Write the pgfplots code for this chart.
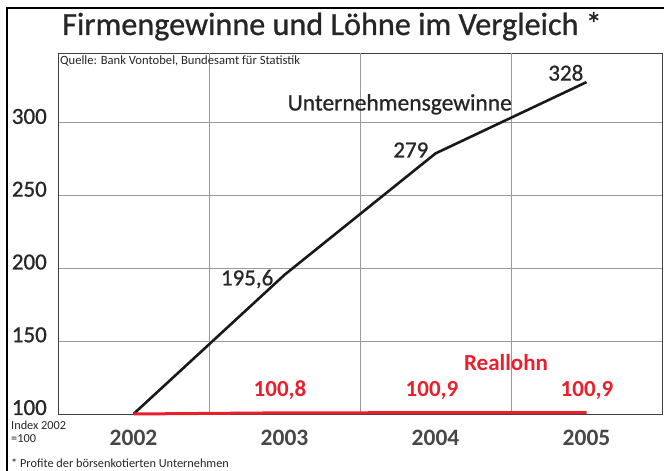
\documentclass[border=0pt]{standalone}
\usepackage{fontspec}
\setmainfont{Carlito}
\newfontfamily\medfont{Carlito}[FakeBold=0.8]
\newfontfamily\semifont{Carlito}[FakeBold=1.4]
\usepackage{pgfplots}
\pgfplotsset{compat=1.18}
\definecolor{txt}{HTML}{262626}
\definecolor{rot}{HTML}{E8202C}
\definecolor{gridc}{HTML}{9A9A9A}
\begin{document}
\begin{tikzpicture}[x=1bp,y=1bp]
\useasboundingbox (0,0) rectangle (664,471);
\fill[white] (0,0) rectangle (664,471);
\begin{axis}[
  at={(58bp,57bp)}, anchor=south west,
  scale only axis, width=604bp, height=361bp,
  xmin=-0.5, xmax=3.5, ymin=100, ymax=348,
  xtick={0,1,2,3}, xticklabels={2002,2003,2004,2005},
  ytick={100,150,200,250,300},
  extra x ticks={0.5,1.5,2.5}, extra x tick labels={},
  extra x tick style={grid=major, major tick length=0pt},
  ymajorgrids,
  grid style={draw=gridc, line width=0.9bp},
  major tick length=0pt,
  axis line style={draw=black!75, line width=0.9bp},
  /pgf/number format/assume math mode=true,
  yticklabel style={anchor=base east, inner sep=0pt, xshift=-11bp, yshift=-1bp,
     font=\medfont\fontsize{23bp}{26bp}\selectfont, text=txt},
  xticklabel style={anchor=base, inner sep=0pt, yshift=-32bp,
     font=\bfseries\fontsize{23.5bp}{26bp}\selectfont, text=txt!85},
  clip=false,
]
\addplot[draw=black!90, line width=2.6bp, line join=round] coordinates {(0,100) (1,195.6) (2,279) (3,328)};
\addplot[draw=rot, line width=3bp] coordinates {(0,100) (1,100.8) (2,100.9) (3,100.9)};
\begin{scope}[every node/.style={inner sep=0pt, font=\medfont\fontsize{23bp}{26bp}\selectfont, text=txt}]
\node[anchor=base east, xshift=-11bp, yshift=-10.5bp] at (axis cs:1,195.6) {195,6};
\node[anchor=base east, xshift=-7bp, yshift=-4bp] at (axis cs:2,279) {279};
\node[anchor=base east, xshift=-3bp, yshift=1.5bp] at (axis cs:3,328) {328};
\end{scope}
\end{axis}
% annotations (absolute, 1bp = 1px)
\node[anchor=base west, inner sep=0pt, text=txt, font=\medfont\fontsize{32.2bp}{36bp}\selectfont] at (62,436) {Firmengewinne und Löhne im Vergleich *};
\node[anchor=base west, inner sep=0pt, text=txt, font=\fontsize{12.6bp}{14bp}\selectfont] at (60,406) {Quelle: Bank Vontobel, Bundesamt für Statistik};
\node[anchor=base east, inner sep=0pt, text=txt, font=\medfont\fontsize{23.5bp}{26bp}\selectfont] at (512,360.5) {Unternehmensgewinne};
\begin{scope}[every node/.style={inner sep=0pt, anchor=base, text=rot, font=\bfseries\fontsize{23bp}{26bp}\selectfont}]
\node at (506,100.5) {Reallohn};
\node at (280,74.5) {100,8};
\node at (432,74.5) {100,9};
\node at (587,74.5) {100,9};
\end{scope}
\node[anchor=base west, inner sep=0pt, text=txt, font=\fontsize{12.3bp}{14bp}\selectfont] at (11,41) {Index 2002};
\node[anchor=base west, inner sep=0pt, text=txt, font=\fontsize{12.3bp}{14bp}\selectfont] at (11,28) {=100};
\node[anchor=base west, inner sep=0pt, text=txt, font=\fontsize{12.3bp}{14bp}\selectfont] at (11,3.5) {* Profite der börsenkotierten Unternehmen};
\draw[black, line width=2bp] (7,-10) -- (7,463) -- (680,463);
\end{tikzpicture}
\end{document}
